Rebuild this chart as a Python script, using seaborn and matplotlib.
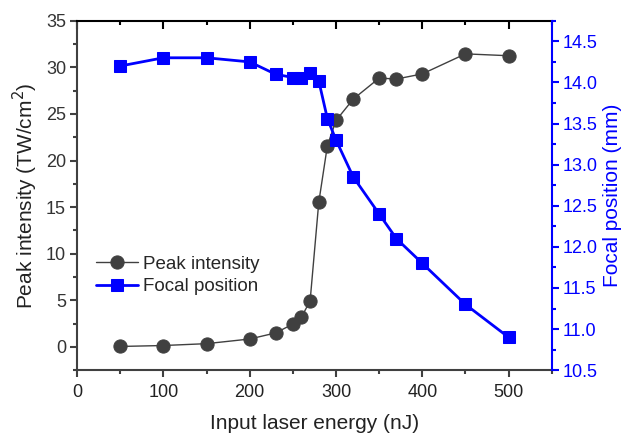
import numpy as np
import pandas as pd
import seaborn as sns
import matplotlib
matplotlib.use("Agg")
import matplotlib.pyplot as plt
from matplotlib.ticker import MultipleLocator, FormatStrFormatter, NullFormatter

energy_peak = [50, 100, 150, 200, 230, 250, 260, 270, 280, 290, 300, 320, 350, 370, 400, 450, 500]
peak_intensity = [0.05, 0.15, 0.35, 0.85, 1.5, 2.45, 3.2, 4.95, 15.5, 21.6, 24.3, 26.6, 28.85, 28.75, 29.3, 31.45, 31.25]

energy_focal = [50, 100, 150, 200, 230, 250, 260, 270, 280, 290, 300, 320, 350, 370, 400, 450, 500]
focal_position = [14.2, 14.3, 14.3, 14.25, 14.1, 14.06, 14.06, 14.12, 14.02, 13.56, 13.3, 12.85, 12.4, 12.1, 11.8, 11.3, 10.9]

gray = "#404040"
blue = "#0000ff"

sns.set_style("ticks")
plt.rcParams['font.family'] = ['Liberation Sans', 'DejaVu Sans']
plt.rcParams['font.size'] = 13

df_peak = pd.DataFrame({"energy": energy_peak, "value": peak_intensity})
df_focal = pd.DataFrame({"energy": energy_focal, "value": focal_position})

fig = plt.figure(figsize=(6.27, 4.33), dpi=100)
ax = fig.add_axes([0.123, 0.145, 0.757, 0.807])
ax2 = ax.twinx()

sns.lineplot(data=df_peak, x="energy", y="value", ax=ax, color=gray, linewidth=1.0,
             marker="o", markersize=9.5, markeredgecolor=gray, label="Peak intensity", legend=False)
sns.lineplot(data=df_focal, x="energy", y="value", ax=ax2, color=blue, linewidth=2.0,
             marker="s", markersize=8.5, markeredgecolor=blue, label="Focal position", legend=False)

ax.set_xlim(0, 550)
ax.set_ylim(-2.5, 35)
ax2.set_ylim(10.5, 14.75)

ax.xaxis.set_major_locator(MultipleLocator(100))
ax.xaxis.set_minor_locator(MultipleLocator(50))
ax.yaxis.set_major_locator(MultipleLocator(5))
ax.yaxis.set_minor_locator(MultipleLocator(2.5))
ax2.yaxis.set_major_locator(MultipleLocator(0.5))
ax2.yaxis.set_minor_locator(MultipleLocator(0.25))
ax2.yaxis.set_major_formatter(FormatStrFormatter("%.1f"))

for s in ["left", "bottom"]:
    ax.spines[s].set_color(gray)
    ax.spines[s].set_linewidth(1.5)
ax.spines["top"].set_visible(True)
ax.spines["top"].set_color("black")
ax.spines["top"].set_linewidth(1.5)
ax.spines["right"].set_visible(False)
ax2.spines["right"].set_visible(True)
ax2.spines["right"].set_color(blue)
ax2.spines["right"].set_linewidth(1.5)
for s in ["top", "left", "bottom"]:
    ax2.spines[s].set_visible(False)

# top axis with inward ticks, no labels
top = ax.secondary_xaxis("top")
top.spines["top"].set_visible(False)
top.xaxis.set_major_locator(MultipleLocator(100))
top.xaxis.set_minor_locator(MultipleLocator(50))
top.xaxis.set_major_formatter(NullFormatter())
top.tick_params(which="both", direction="in", color="black", width=1.5)
top.tick_params(which="major", length=6)
top.tick_params(which="minor", length=3)

ax.tick_params(axis="x", which="both", direction="out", color=gray, labelcolor="#222222", width=1.5)
ax.tick_params(axis="x", which="major", length=5, pad=5)
ax.tick_params(axis="x", which="minor", length=3)
ax.tick_params(axis="y", which="both", direction="out", color=gray, labelcolor="#333333", width=1.5)
ax.tick_params(axis="y", which="major", length=5, pad=3)
ax.tick_params(axis="y", which="minor", length=3)
ax2.tick_params(axis="y", which="both", direction="out", color=blue, labelcolor=blue, width=1.5)
ax2.tick_params(axis="y", which="major", length=5, pad=3)
ax2.tick_params(axis="y", which="minor", length=3)

ax.set_xlabel("Input laser energy (nJ)", fontsize=15, color="#222222", labelpad=9)
ax.set_ylabel("Peak intensity (TW/cm$^2$)", fontsize=15, color="#222222", labelpad=4)
ax2.set_ylabel("Focal position (mm)", fontsize=15, color=blue, labelpad=4)

h1, l1 = ax.get_legend_handles_labels()
h2, l2 = ax2.get_legend_handles_labels()
leg = ax.legend(h1 + h2, l1 + l2, loc="upper left", bbox_to_anchor=(0.025, 0.35),
                frameon=False, fontsize=13.5, handlelength=2.2, handletextpad=0.3,
                labelspacing=0.3, borderaxespad=0)

fig.savefig("out.png", dpi=100)
